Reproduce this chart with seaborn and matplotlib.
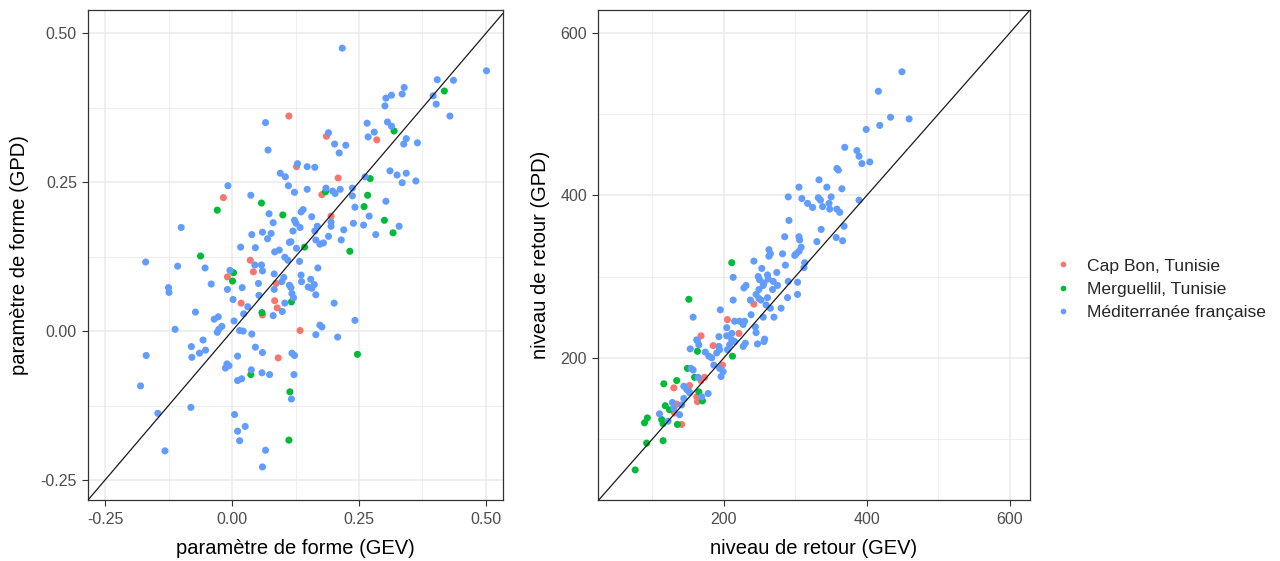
import seaborn as sns
import matplotlib
matplotlib.use("Agg")
import matplotlib.pyplot as plt
import pandas as pd
from matplotlib.ticker import FixedLocator

sites = ["Cap Bon, Tunisie", "Merguellil, Tunisie", "Méditerranée française"]
colors = ["#F8766D", "#00BA38", "#619CFF"]

# paramètre de forme : GEV (x) vs GPD (y)
cap_gev = [0.112, 0.186, 0.285, 0.127, 0.209, 0.177, -0.017, 0.195, 0.036, 0.042, -0.009, 0.087,
           0.084, 0.018, 0.089, 0.060, 0.134, 0.091]
cap_gpd = [0.361, 0.327, 0.321, 0.276, 0.257, 0.229, 0.224, 0.193, 0.119, 0.0995, 0.091, 0.080,
           0.051, 0.047, 0.039, 0.027, 0.001, -0.045]
merg_gev = [0.418, 0.319, 0.272, 0.267, 0.058, -0.029, 0.100, 0.184, 0.260, 0.300, 0.317, 0.232,
            0.143, -0.062, 0.003, 0.001, 0.117, 0.059, 0.247, 0.037, 0.114, 0.112]
merg_gpd = [0.403, 0.336, 0.256, 0.228, 0.215, 0.203, 0.195, 0.234, 0.209, 0.186, 0.165, 0.134,
            0.141, 0.126, 0.098, 0.084, 0.049, 0.031, -0.039, -0.073, -0.102, -0.183]
med_gev = [0.217, 0.501, 0.404, 0.436, 0.339, 0.335, 0.314, 0.303, 0.301, 0.396, 0.402, 0.429,
           0.066, 0.266, 0.306, 0.314, 0.280, 0.268, 0.343, 0.338, 0.365, 0.190, 0.202, 0.224,
           0.211, 0.071, 0.129, 0.148, 0.163, 0.262, 0.311, 0.325, 0.343, 0.362, 0.335, 0.095,
           0.105, -0.008, 0.111, 0.123, 0.037, 0.073, 0.081, 0.123, 0.126, -0.100, 0.039, 0.060,
           0.077, 0.070, 0.120, 0.113, 0.017, 0.046, 0.084, 0.093, 0.127, -0.170, 0.104, 0.110,
           -0.107, -0.053, 0.045, 0.058, -0.004, 0.060, 0.083, 0.102, 0.098, -0.041, 0.020, 0.052,
           -0.125, -0.124, 0.113, 0.116, -0.009, 0.083, 0.053, 0.118, 0.002, 0.104, 0.031, 0.099,
           -0.072, 0.023, 0.081, -0.027, -0.035, 0.004, -0.020, -0.026, -0.029, -0.112, 0.015, 0.022,
           0.039, -0.057,
           0.237, 0.237, 0.242, 0.303, 0.270, 0.329, 0.283, 0.259, 0.239, 0.220, 0.215, 0.185,
           0.198, 0.203, 0.213, 0.148, 0.140, 0.136, 0.157, 0.195, 0.195,
           0.134, 0.168, 0.163, 0.190, 0.165, 0.173, 0.180, 0.116,
           0.133, 0.169, 0.136, 0.137, 0.155, 0.162, 0.150, 0.157,
           0.121, 0.165, 0.201, 0.242, 0.173, 0.177, 0.165, 0.208,
           -0.080, -0.052, -0.064, -0.079, -0.169, 0.046, 0.060, 0.118, 0.123, 0.011, -0.010, -0.013,
           -0.006, 0.038, 0.059, 0.074, 0.122, 0.011, 0.019, -0.180, 0.117, -0.146, -0.081, 0.005,
           0.011, 0.026, 0.015, 0.066, -0.132, 0.060]
med_gpd = [0.475, 0.437, 0.422, 0.421, 0.409, 0.398, 0.396, 0.391, 0.378, 0.395, 0.381, 0.361,
           0.350, 0.349, 0.351, 0.344, 0.334, 0.326, 0.323, 0.314, 0.316, 0.333, 0.314, 0.312,
           0.299, 0.304, 0.281, 0.276, 0.275, 0.259, 0.269, 0.262, 0.265, 0.252, 0.249, 0.265,
           0.259, 0.244, 0.244, 0.233, 0.228, 0.197, 0.182, 0.186, 0.181, 0.174, 0.162, 0.166,
           0.164, 0.155, 0.168, 0.149, 0.141, 0.140, 0.133, 0.136, 0.139, 0.116, 0.124, 0.119,
           0.109, 0.106, 0.111, 0.111, 0.102, 0.101, 0.096, 0.090, 0.083, 0.079, 0.073, 0.080,
           0.073, 0.065, 0.077, 0.073, 0.070, 0.070, 0.060, 0.063, 0.053, 0.047, 0.041, 0.033,
           0.032, 0.029, 0.026, 0.024, 0.020, 0.017, 0.008, 0.003, -0.002, 0.003, 0.001, 0.000,
           -0.005, -0.015,
           0.240, 0.227, 0.208, 0.218, 0.193, 0.176, 0.162, 0.178, 0.181, 0.170, 0.153, 0.240,
           0.235, 0.231, 0.238, 0.238, 0.204, 0.200, 0.192, 0.183, 0.176,
           0.174, 0.176, 0.168, 0.159, 0.153, 0.146, 0.148, 0.150,
           0.117, 0.106, 0.094, 0.083, 0.087, 0.078, 0.074, 0.072,
           0.056, 0.061, 0.047, 0.018, 0.010, 0.007, -0.006, -0.010,
           -0.026, -0.032, -0.037, -0.044, -0.041, -0.027, -0.036, -0.037, -0.041, -0.042, -0.055, -0.062,
           -0.058, -0.065, -0.070, -0.073, -0.073, -0.083, -0.080, -0.092, -0.114, -0.138, -0.128, -0.140,
           -0.168, -0.160, -0.184, -0.200, -0.201, -0.228]

# niveau de retour : GEV (x) vs GPD (y)
cap_rl_gev = [242, 205, 221, 168, 185, 198, 173, 168, 130, 152, 151, 162, 163, 134, 131, 141]
cap_rl_gpd = [266, 247, 230, 227, 215, 191, 176, 172, 163, 166, 159, 152, 146, 143, 132, 118]
merg_rl_gev = [151, 211, 163, 149, 134, 159, 116, 165, 170, 118, 124, 89, 93, 113, 115, 135, 92, 115, 76, 212]
merg_rl_gpd = [272, 317, 208, 187, 172, 176, 168, 158, 147, 141, 136, 120, 126, 124, 119, 118, 95, 98, 62, 202]
med_rl_gev = [449, 416, 433, 459, 418, 399, 369, 386, 389, 393, 404, 358, 360, 333, 305, 344, 365, 290,
              309, 332, 350, 389, 317, 324, 335, 338, 347, 348, 358, 362, 291,
              336, 368, 285, 305, 306, 330, 357, 366, 308, 305, 301, 299, 263, 265, 263, 282, 286, 313,
              312, 242, 253, 274, 213, 248, 250, 261, 262, 256, 255, 269, 275, 268, 231, 228, 249, 290,
              303, 303, 289, 245, 249, 252, 261, 259, 265, 280, 213, 237, 270, 255, 238, 195, 157, 215,
              222, 229, 227, 204, 244, 245, 211, 204, 193, 162, 257,
              163, 165, 153, 174, 179, 190, 194, 193, 205, 208, 211, 215, 227, 230, 247, 256, 183, 186,
              194, 199, 196, 154, 157, 164, 144, 148, 169, 178, 152, 144, 128, 130, 141, 138, 110, 122]
med_rl_gpd = [552, 528, 496, 494, 486, 481, 459, 455, 448, 439, 441, 433, 431, 419, 410, 410, 408, 398,
              396, 397, 398, 394, 390, 385, 394, 386, 390, 383, 383, 379, 369,
              358, 362, 349, 349, 345, 343, 348, 344, 336, 331, 328, 326, 333, 328, 325, 328, 314, 317,
              311, 319, 310, 305, 299, 300, 296, 302, 297, 292, 289, 294, 289, 284, 289, 286, 284, 294,
              293, 278, 274, 278, 273, 271, 274, 265, 261, 261, 271, 271, 250, 250, 253, 259, 250, 245,
              245, 245, 241, 237, 238, 231, 230, 227, 226, 222, 223,
              221, 216, 211, 207, 202, 206, 210, 214, 210, 216, 222, 220, 214, 218, 217, 220, 200, 191,
              187, 183, 177, 187, 185, 176, 165, 161, 152, 156, 157, 150, 145, 138, 142, 130, 131, 122]


def build(xs, ys):
    parts = []
    for site, x, y in zip(sites, xs, ys):
        parts.append(pd.DataFrame({"gev": x, "gpd": y, "site": site}))
    return pd.concat(parts, ignore_index=True)


df_shape = build([cap_gev, merg_gev, med_gev], [cap_gpd, merg_gpd, med_gpd])
df_level = build([cap_rl_gev, merg_rl_gev, med_rl_gev], [cap_rl_gpd, merg_rl_gpd, med_rl_gpd])

sns.set_style("white")
plt.rcParams["font.family"] = ["Liberation Sans", "DejaVu Sans"]

fig = plt.figure(figsize=(12.8, 5.61), dpi=100)
ax1 = fig.add_axes([88 / 1280, 1 - 500 / 561, 415 / 1280, 490 / 561])
ax2 = fig.add_axes([598 / 1280, 1 - 500 / 561, 432 / 1280, 490 / 561])

pal = dict(zip(sites, colors))

sns.scatterplot(data=df_shape, x="gev", y="gpd", hue="site", hue_order=sites, palette=pal,
                s=26, linewidth=0, alpha=1, ax=ax1, legend=False, zorder=3)
sns.scatterplot(data=df_level, x="gev", y="gpd", hue="site", hue_order=sites, palette=pal,
                s=26, linewidth=0, alpha=1, ax=ax2, legend=True, zorder=3)

setups = [
    (ax1, (-0.2835, 0.5335), (-0.2835, 0.539), [-0.25, 0, 0.25, 0.5], [-0.375, -0.125, 0.125, 0.375],
     ["-0.25", "0.00", "0.25", "0.50"], "paramètre de forme (GEV)", "paramètre de forme (GPD)", 8),
    (ax2, (24, 628), (25, 628), [200, 400, 600], [100, 300, 500],
     ["200", "400", "600"], "niveau de retour (GEV)", "niveau de retour (GPD)", 7),
]

for ax, xl, yl, major, minor, labels, xlab, ylab, ypad in setups:
    ax.axline((0, 0), slope=1, color="#1a1a1a", lw=0.9, zorder=4)
    ax.set_xlim(*xl)
    ax.set_ylim(*yl)
    ax.set_xticks(major)
    ax.set_yticks(major)
    ax.set_xticklabels(labels)
    ax.set_yticklabels(labels)
    ax.xaxis.set_minor_locator(FixedLocator(minor))
    ax.yaxis.set_minor_locator(FixedLocator(minor))
    ax.grid(True, which="major", color="#EBEBEB", lw=1.1, zorder=0)
    ax.grid(True, which="minor", color="#EBEBEB", lw=0.55, zorder=0)
    ax.set_axisbelow(True)
    ax.tick_params(which="major", length=4, width=0.8, color="#333333", labelsize=11.5,
                   labelcolor="#4D4D4D", bottom=True, left=True)
    ax.tick_params(axis="x", which="major", pad=5)
    ax.tick_params(axis="y", which="major", pad=4)
    ax.tick_params(which="minor", length=0)
    for sp in ax.spines.values():
        sp.set_color("#333333")
        sp.set_linewidth(0.9)
    ax.set_xlabel(xlab, fontsize=14.5, color="black", labelpad=8)
    ax.set_ylabel(ylab, fontsize=14.5, color="black", labelpad=ypad)

sns.move_legend(ax2, "center left", bbox_to_anchor=(1030 / 1280, 1 - 289 / 561),
                bbox_transform=fig.transFigure, title=None, frameon=False, fontsize=12.6,
                handletextpad=0.35, labelspacing=0.45, markerscale=0.8)

fig.savefig("out.png", dpi=100, facecolor="white")
